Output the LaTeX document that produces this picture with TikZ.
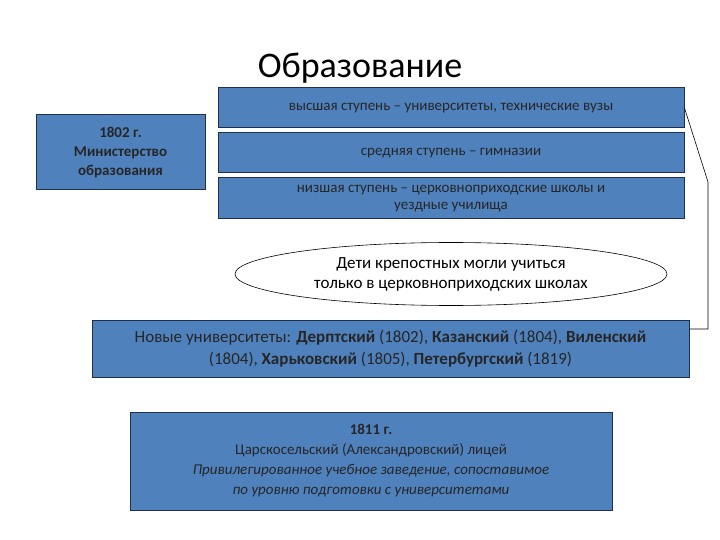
\documentclass[tikz,border=0pt]{standalone}
\usepackage{fontspec}
\setmainfont{Carlito}
\usetikzlibrary{shapes.geometric}
\definecolor{boxblue}{HTML}{4F81BD}
\definecolor{edge}{HTML}{1F2F4F}
\begin{document}
\begin{tikzpicture}[x=1pt,y=-1pt,
  bluebox/.style={draw=edge,line width=1pt,fill=boxblue,inner sep=0pt,align=center,text=black!85,font=\fontsize{15}{17}\selectfont}]
\useasboundingbox (0,0) rectangle (720,540);
\node (title) at (360,68) {\fontsize{36}{40}\selectfont Образование};
\node[bluebox,minimum width=466pt,minimum height=40pt] (b1) at (451,108) {высшая ступень – университеты, технические вузы};
\node[bluebox,minimum width=466pt,minimum height=40pt] (b2) at (451,153) {средняя ступень – гимназии};
\node[bluebox,minimum width=466pt,minimum height=41pt] (b3) at (451,198.5) {низшая ступень – церковноприходские школы и\\уездные училища};
\node[bluebox,minimum width=169pt,minimum height=75pt,font=\bfseries\fontsize{15}{19}\selectfont] (min) at (120.5,152.5) {1802 г.\\Министерство\\образования};
\node[draw=black,ellipse,line width=0.6pt,minimum width=432pt,minimum height=63pt,inner sep=0pt,align=center,font=\fontsize{17}{20}\selectfont] (el) at (451,274) {Дети крепостных могли учиться\\только в церковноприходских школах};
\node[bluebox,minimum width=597pt,minimum height=57pt,font=\fontsize{17}{22}\selectfont] (univ) at (390.5,348.5) {Новые университеты: \textbf{Дерптский} (1802), \textbf{Казанский} (1804), \textbf{Виленский}\\(1804), \textbf{Харьковский} (1805), \textbf{Петербургский} (1819)};
\node[bluebox,minimum width=482pt,minimum height=98pt,font=\fontsize{15}{20}\selectfont] (lyc) at (371,461) {\textbf{1811 г.}\\Царскосельский (Александровский) лицей\\\textit{Привилегированное учебное заведение, сопоставимое}\\\textit{по уровню подготовки с университетами}};
\coordinate (k1) at (708,182);
\coordinate (k2) at (708,329);
\draw[line width=0.6pt] (b1.east) -- (k1) -- (k2) -- (univ.east |- k2);
\end{tikzpicture}
\end{document}
